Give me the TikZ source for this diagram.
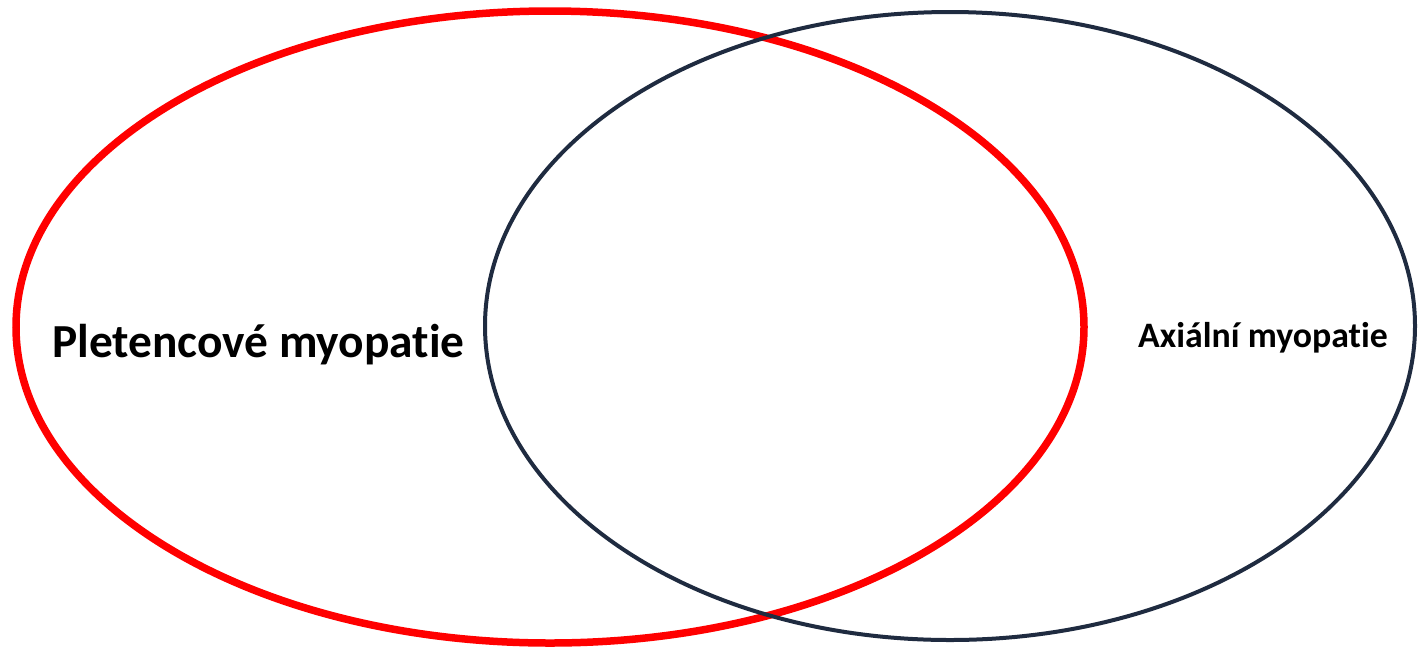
\documentclass[tikz,border=0pt]{standalone}
\usepackage{fontspec}
\usetikzlibrary{shapes.geometric}
\setmainfont{Carlito}[RawFeature={-liga;-clig}]
\definecolor{vred}{HTML}{FF0000}
\definecolor{vnavy}{HTML}{1F2B40}
\begin{document}
\begin{tikzpicture}[x=1pt,y=-1pt,
  setshape/.style={ellipse,inner sep=0pt},
  lbl/.style={inner sep=0pt}]
\useasboundingbox (0,0) rectangle (1419,649);
\node[setshape,draw=vred,line width=7.5pt,minimum width=1068pt,minimum height=632pt] (setA) at (550,327) {};
\node[setshape,draw=vnavy,line width=4pt,minimum width=930pt,minimum height=628pt] (setB) at (950,326) {};
\node[lbl,anchor=base west,font=\bfseries\fontsize{47.4}{50}\selectfont] (la) at (52,357) {Pletencové myopatie};
\node[lbl,anchor=base west,font=\bfseries\fontsize{35.8}{40}\selectfont] (lb) at (1138,347) {Axiální myopatie};
\end{tikzpicture}
\end{document}
